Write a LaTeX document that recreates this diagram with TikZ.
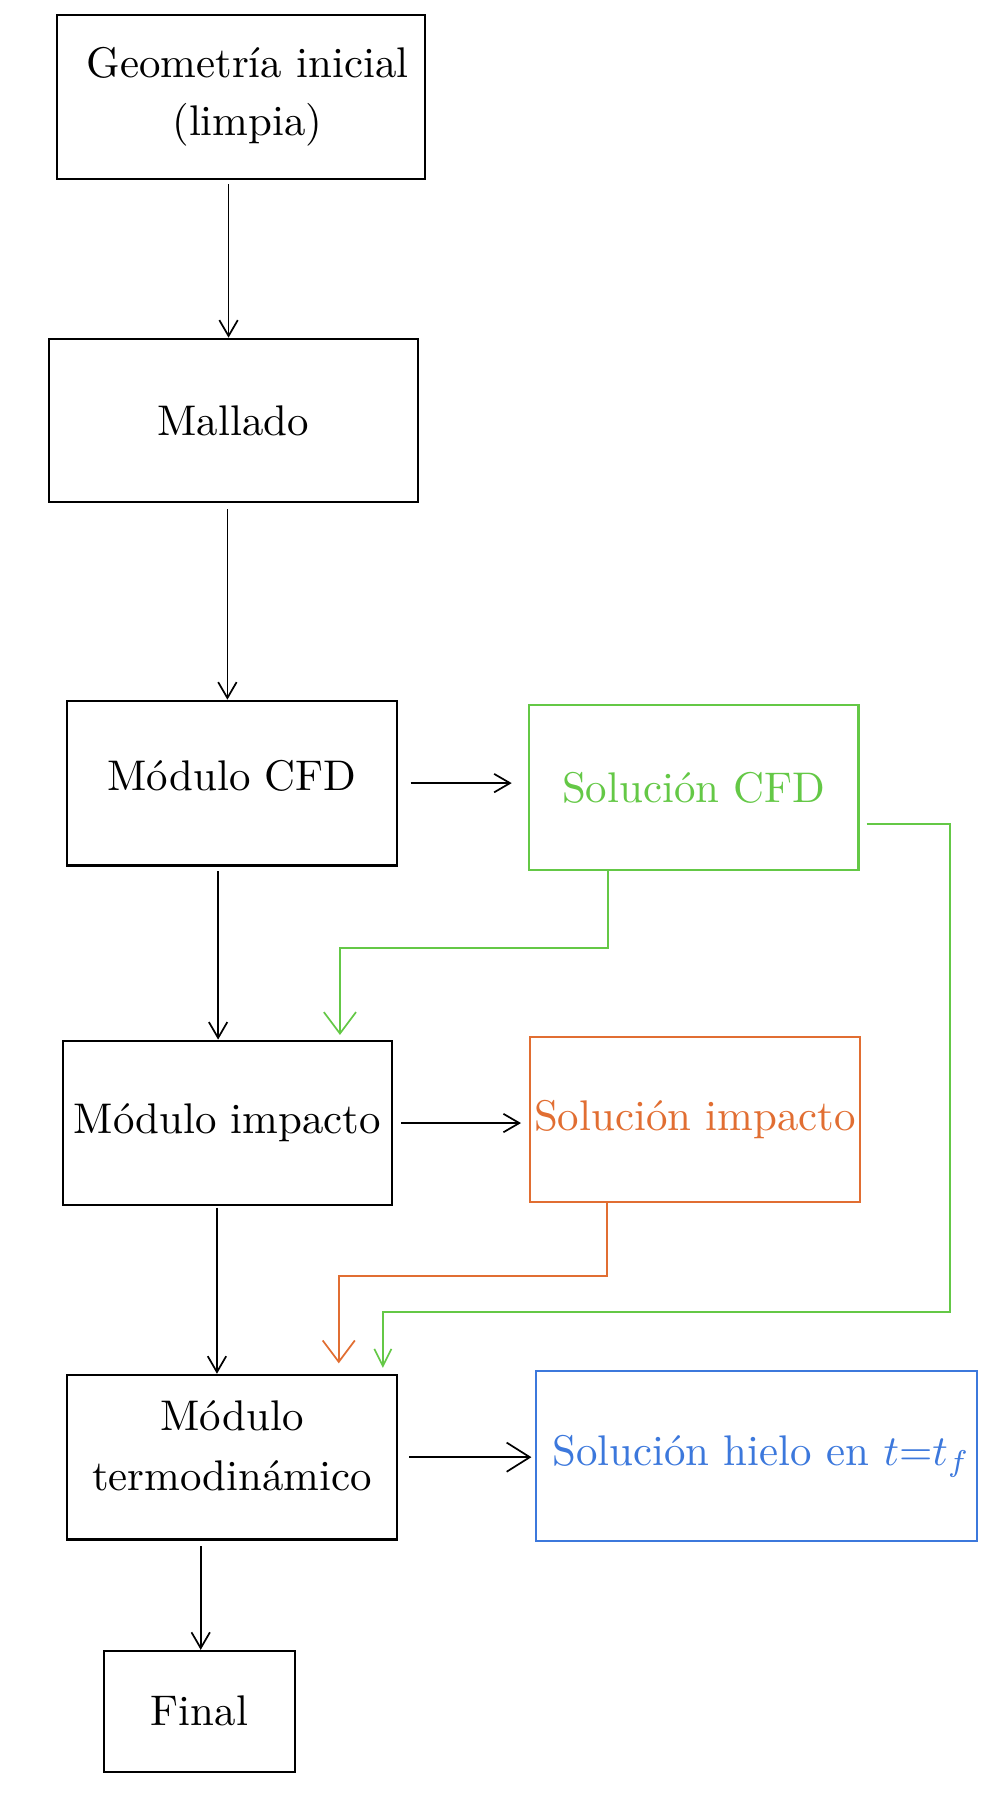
\documentclass[tikz,border=0pt]{standalone}
\usetikzlibrary{arrows.meta,calc}
\definecolor{verde}{RGB}{100,200,70}
\definecolor{naranja}{RGB}{225,110,50}
\definecolor{azul}{RGB}{60,120,220}
\begin{document}
\begin{tikzpicture}[x=0.951cm,y=0.951cm,
    caja/.style={draw,line width=0.5pt,align=center,inner sep=0pt},
    flecha/.style={-{Straight Barb[length=3.7pt,width=4.3pt]},line width=0.4pt},
    flechag/.style={-{Straight Barb[length=5pt,width=7.5pt]},line width=0.4pt},
    flechap/.style={-{Straight Barb[length=4pt,width=4pt]},line width=0.4pt}]
    \useasboundingbox (0,0) rectangle (8.62,15.67);
    % bloques del flujo
    \node[caja,minimum width=3.015cm,minimum height=1.341cm] (geo) at (2.075,14.835) {\hspace*{1.1mm}Geometría inicial\\[1.5pt]\hspace*{1.1mm}(limpia)};
    \node[caja,minimum width=3.024cm,minimum height=1.341cm] (mall) at (2.01,12.045) {Mallado};
    \node[caja,text depth=1.2mm,minimum width=2.701cm,minimum height=1.350cm] (cfd) at (2.00,8.92) {Módulo CFD};
    \node[caja,verde,minimum width=2.701cm,minimum height=1.350cm] (solcfd) at (5.98,8.88) {Solución CFD};
    \node[caja,minimum width=2.701cm,minimum height=1.350cm] (imp) at (1.96,5.99) {Módulo impacto};
    \node[caja,naranja,minimum width=2.701cm,minimum height=1.350cm] (solimp) at (5.99,6.02) {Solución impacto};
    \node[caja,minimum width=2.701cm,minimum height=1.350cm] (termo) at (2.00,3.11) {Módulo\\[2pt]termodinámico\\[-2.3mm]~};
    \node[caja,azul,minimum width=3.614cm,minimum height=1.388cm] (solhielo) at (6.52,3.12) {\hspace*{0.8mm}Solución hielo en $t{=}t_f$};
    \node[caja,minimum width=1.560cm,minimum height=0.989cm] (final) at (1.72,0.92) {Final};
    % flechas
    \draw[flecha] ($(geo.south)+(-0.105,-0.04)$) coordinate (p1) -- (p1 |- mall.north);
    \draw[flecha] ($(mall.south)+(-0.05,-0.05)$) coordinate (p2) -- (p2 |- cfd.north);
    \draw[flecha] ($(cfd.east)+(0.11,0)$) -- ($(solcfd.west |- cfd.east)+(-0.14,0)$);
    \draw[flecha] ($(cfd.south)+(-0.12,-0.04)$) coordinate (p4) -- (p4 |- imp.north);
    \draw[flechag,verde] ($(solcfd.south)+(-0.74,0)$) -- ++(0,-0.66) -| ($(imp.north)+(0.97,0.04)$);
    \draw[flechap,verde] ($(solcfd.east)+(0.06,-0.31)$) -- ++(0.72,0) |- ($(termo.north)+(1.30,0.53)$) -- ($(termo.north)+(1.30,0.05)$);
    \draw[flecha] ($(imp.east)+(0.07,0)$) -- ($(solimp.west |- imp.east)+(-0.07,0)$);
    \draw[flecha] ($(imp.south)+(-0.09,-0.01)$) coordinate (p8) -- (p8 |- termo.north);
    \draw[flechag,naranja] ($(solimp.south)+(-0.76,0)$) -- ++(0,-0.63) -| ($(termo.north)+(0.92,0.09)$);
    \draw[-{Straight Barb[length=5.4pt,width=6.8pt]},line width=0.4pt] ($(termo.east)+(0.10,0)$) -- ($(solhielo.west |- termo.east)+(-0.03,0)$);
    \draw[flecha] ($(termo.south)+(-0.27,-0.05)$) coordinate (p11) -- (p11 |- final.north);
\end{tikzpicture}
\end{document}
